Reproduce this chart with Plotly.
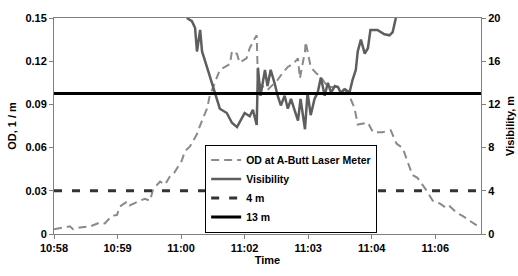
import plotly.graph_objects as go

# x in tick units (one unit per labelled tick)
tick_labels = ["10:58", "10:59", "11:00", "11:02", "11:03", "11:04", "11:06"]

od_x = [0.0, 0.25, 0.30, 0.41, 0.57, 0.72, 0.80, 0.91, 0.99, 1.04, 1.15, 1.19, 1.32, 1.43, 1.51,
        1.56, 1.67, 1.75, 1.82, 1.90, 2.01, 2.06, 2.14, 2.25, 2.30, 2.41, 2.45, 2.56, 2.61, 2.77,
        2.80, 2.88, 2.92, 3.03, 3.08, 3.13, 3.19, 3.21, 3.36, 3.52, 3.60, 3.68, 3.76, 3.84, 3.87,
        3.95, 3.96, 4.04, 4.12, 4.20, 4.31, 4.47, 4.58, 4.65, 4.73, 4.78, 4.94, 5.02, 5.17, 5.30,
        5.39, 5.49, 5.57, 5.64, 5.72, 5.80, 5.88, 5.96, 6.07, 6.18, 6.23, 6.34, 6.43, 6.54, 6.65, 6.70]
od_y = [0.0033, 0.0053, 0.0033, 0.0046, 0.0053, 0.0079, 0.0073, 0.0126, 0.0132, 0.0192, 0.0225,
        0.0198, 0.0225, 0.0245, 0.0231, 0.0311, 0.0364, 0.0344, 0.0397, 0.0430, 0.0509, 0.0575,
        0.0608, 0.0694, 0.0754, 0.0873, 0.0958, 0.109, 0.114, 0.118, 0.127, 0.125, 0.119, 0.122,
        0.129, 0.1335, 0.138, 0.105, 0.100, 0.107, 0.112, 0.116, 0.118, 0.122, 0.108, 0.127, 0.1335,
        0.116, 0.112, 0.109, 0.102, 0.102, 0.100, 0.0958, 0.0873, 0.076, 0.0773, 0.0707, 0.0707,
        0.072, 0.0628, 0.0595, 0.0496, 0.041, 0.039, 0.0344, 0.0291, 0.0231, 0.0212, 0.0178, 0.0192,
        0.0145, 0.0126, 0.0093, 0.006, 0.0046]

vis_x = [2.09, 2.17, 2.22, 2.25, 2.30, 2.33, 2.41, 2.50, 2.56, 2.61, 2.72, 2.80, 2.88, 2.92, 3.00,
         3.08, 3.13, 3.19, 3.21, 3.25, 3.32, 3.36, 3.41, 3.47, 3.52, 3.57, 3.63, 3.68, 3.73, 3.79,
         3.84, 3.88, 3.95, 3.99, 4.04, 4.10, 4.15, 4.20, 4.26, 4.31, 4.36, 4.42, 4.47, 4.51, 4.58,
         4.65, 4.70, 4.75, 4.78, 4.83, 4.89, 4.94, 4.98, 5.09, 5.20, 5.28, 5.33, 5.38]
vis_y = [20, 19.7, 19.1, 16.9, 18.9, 16.9, 15.4, 13.7, 12.5, 11.6, 11.2, 10.3, 9.9, 10.3, 11.2,
         10.9, 11.5, 10.1, 15.4, 12.8, 15.2, 13.7, 15.2, 14.0, 12.8, 11.9, 12.8, 11.6, 12.5, 11.4,
         10.5, 12.5, 9.7, 13.1, 11.0, 12.5, 13.1, 14.5, 12.8, 14.0, 13.1, 13.7, 13.6, 13.1, 13.4,
         13.1, 14.3, 15.2, 16.9, 18.0, 16.7, 17.2, 18.9, 18.9, 18.5, 18.4, 18.7, 20]

x_end = 6.72
level_4m = 4
level_13m = 13

FAM = "Arial, Liberation Sans, sans-serif"
font = dict(family=FAM, size=11, color="black", weight="bold")

fig = go.Figure()
fig.add_trace(go.Scatter(x=od_x, y=od_y, mode="lines", name="OD at A-Butt Laser Meter",
                         line=dict(color="#8a8a8a", width=2, dash="8px,5px")))
fig.add_trace(go.Scatter(x=vis_x, y=vis_y, mode="lines", name="Visibility", yaxis="y2",
                         line=dict(color="#5e5e5e", width=2.5)))
fig.add_trace(go.Scatter(x=[0, x_end], y=[level_4m, level_4m], mode="lines", name="4 m", yaxis="y2",
                         line=dict(color="#333333", width=3, dash="8px,10px")))
fig.add_trace(go.Scatter(x=[0, x_end], y=[level_13m, level_13m], mode="lines", name="13 m", yaxis="y2",
                         line=dict(color="black", width=3)))

fig.update_layout(
    width=518, height=276,
    margin=dict(l=54, r=37, t=15, b=34),
    paper_bgcolor="white", plot_bgcolor="white",
    font=font,
    showlegend=True,
    legend=dict(x=0.354, y=0.414, xanchor="left", yanchor="top",
                bgcolor="white", bordercolor="black", borderwidth=1,
                font=dict(family=FAM, size=10.5, color="black", weight="bold"),
                tracegroupgap=0),
    xaxis=dict(range=[0, x_end], tickvals=list(range(len(tick_labels))), ticktext=tick_labels,
               showgrid=False, zeroline=False, showline=True, linecolor="#808080", linewidth=1,
               mirror=True, ticks="outside", ticklen=4, tickcolor="#808080",
               title=dict(text="Time", standoff=2, font=font)),
    yaxis=dict(range=[0, 0.15], dtick=0.03, tick0=0, showgrid=False, zeroline=False,
               showline=True, linecolor="#808080", linewidth=1, ticks="outside", ticklen=4,
               tickcolor="#808080", title=dict(text="OD, 1 / m", standoff=6, font=font)),
    yaxis2=dict(range=[0, 20], dtick=4, tick0=0, overlaying="y", side="right", showgrid=False,
                zeroline=False, showline=True, linecolor="#808080", linewidth=1, ticks="outside",
                ticklen=4, tickcolor="#808080"),
    annotations=[dict(text="Visibility, m", xref="paper", yref="paper", x=1.0, y=0.5,
                      xshift=29, xanchor="center", yanchor="middle", textangle=-90,
                      showarrow=False, font=font)],
)

fig.write_html("out.html", config={"displayModeBar": False})

# remove the browser's default page margin so the figure sits at the window origin
with open("out.html", "r", encoding="utf-8") as f:
    html = f.read()
html = html.replace("<head>", "<head><style>html,body{margin:0;padding:0;overflow:hidden;}</style>", 1)
with open("out.html", "w", encoding="utf-8") as f:
    f.write(html)
